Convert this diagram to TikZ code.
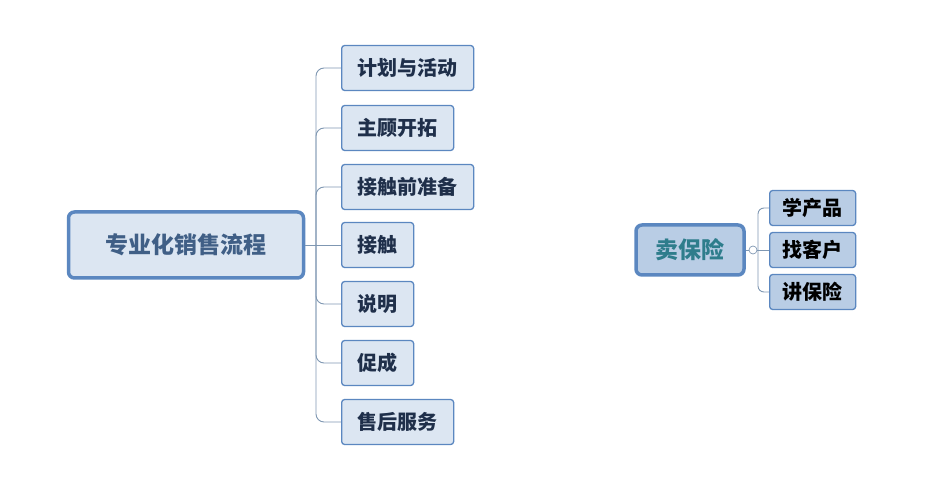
\documentclass[tikz,border=0pt]{standalone}
\usepackage{fontspec}
\usepackage{tikz}
\usetikzlibrary{positioning}
\newfontfamily\cjk{Noto Sans CJK SC}
\definecolor{boxfill}{HTML}{DCE6F2}
\definecolor{boxfilldark}{HTML}{B9CDE5}
\definecolor{boxline}{HTML}{5B87C0}
\definecolor{txt}{HTML}{1F2F4A}
\definecolor{rootbtxt}{HTML}{2E7D8C}
\definecolor{linecol}{HTML}{7F97B2}

\begin{document}
\begin{tikzpicture}[x=1pt,y=-1pt,
  topic/.style={draw=boxline,line width=3.5pt,fill=boxfill,rounded corners=6pt,
    minimum height=66pt,font=\cjk\bfseries\fontsize{23}{26}\selectfont,text=boxline!70!black},
  leaf/.style={draw=boxline,line width=1.3pt,fill=boxfill,rounded corners=3pt,anchor=west,
    minimum height=45pt,inner xsep=16pt,font=\cjk\bfseries\fontsize{20}{24}\selectfont,text=txt},
  leafb/.style={leaf,minimum height=35pt,inner xsep=13pt,text=black},
  conn/.style={draw=linecol,line width=0.9pt,rounded corners=8pt}]
\useasboundingbox (0,0) rectangle (945,494);
% left map
\node[topic,minimum width=235pt] (m) at (186,245) {专业化销售流程};
\node[leaf] (1) at (341,68) {计划与活动};
\node[leaf] (2) at (341,128) {主顾开拓};
\node[leaf] (3) at (341,187) {接触前准备};
\node[leaf] (4) at (341,245) {接触};
\node[leaf] (5) at (341,304) {说明};
\node[leaf] (6) at (341,363) {促成};
\node[leaf] (7) at (341,422) {售后服务};
\coordinate (bus) at (316,245);
\draw[conn] (m.east) -- (4.west);
\draw[conn] (bus) |- (1.west);
\draw[conn] (bus) |- (2.west);
\draw[conn] (bus) |- (3.west);
\draw[conn] (bus) |- (5.west);
\draw[conn] (bus) |- (6.west);
\draw[conn] (bus) |- (7.west);
% right map
\node[topic,fill=boxfilldark,text=rootbtxt,minimum width=108pt,minimum height=50pt] (r) at (690,250) {卖保险};
\node[leafb,fill=boxfilldark] (a) at (769,208) {学产品};
\node[leafb,fill=boxfilldark] (b) at (769,250) {找客户};
\node[leafb,fill=boxfilldark] (c) at (769,292) {讲保险};
\node[draw=linecol,circle,line width=0.7pt,inner sep=0pt,minimum size=8pt] (o) at (753,250) {};
\coordinate (rbus) at (758,250);
\draw[conn] (r.east) -- (o.west);
\draw[conn] (o.east) -- (b.west);
\draw[conn,rounded corners=6pt] (rbus) |- (a.west);
\draw[conn,rounded corners=6pt] (rbus) |- (c.west);
\end{tikzpicture}
\end{document}
